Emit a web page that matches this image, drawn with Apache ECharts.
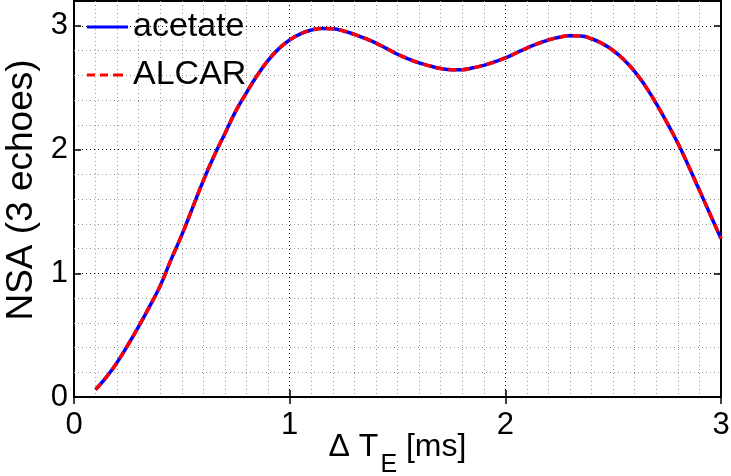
<!DOCTYPE html>
<html>
<head>
<meta charset="utf-8">
<script src="https://cdn.jsdelivr.net/npm/echarts@6/dist/echarts.min.js"></script>
<style>
  html, body { margin: 0; padding: 0; background: #fff; }
  #chart { width: 731px; height: 476px; }
</style>
</head>
<body>
<div id="chart"></div>
<script>
  // echo spacing [ms]
  let deltaTE = [0.10, 0.15, 0.20, 0.25, 0.30, 0.35, 0.40, 0.45, 0.50, 0.55,
    0.60, 0.65, 0.70, 0.75, 0.80, 0.85, 0.90, 0.95, 1.00, 1.05,
    1.10, 1.15, 1.20, 1.25, 1.30, 1.35, 1.40, 1.45, 1.50, 1.55,
    1.60, 1.65, 1.70, 1.75, 1.80, 1.85, 1.90, 1.95, 2.00, 2.05,
    2.10, 2.15, 2.20, 2.25, 2.30, 2.35, 2.40, 2.45, 2.50, 2.55,
    2.60, 2.65, 2.70, 2.75, 2.80, 2.85, 2.90, 2.95, 3.00]
  // NSA for 3 echoes
  let acetate = [0.06, 0.16, 0.28, 0.42, 0.57, 0.73, 0.90, 1.11, 1.31, 1.53,
    1.75, 1.95, 2.13, 2.31, 2.46, 2.60, 2.72, 2.815, 2.885, 2.935,
    2.965, 2.978, 2.975, 2.958, 2.93, 2.897, 2.86, 2.815, 2.77, 2.733,
    2.70, 2.675, 2.655, 2.645, 2.645, 2.66, 2.68, 2.708, 2.74, 2.78,
    2.82, 2.855, 2.885, 2.907, 2.92, 2.918, 2.895, 2.855, 2.80, 2.725,
    2.63, 2.51, 2.37, 2.215, 2.05, 1.865, 1.67, 1.475, 1.28]
  let alcar = [0.06, 0.16, 0.28, 0.42, 0.57, 0.73, 0.90, 1.11, 1.31, 1.53,
    1.75, 1.95, 2.13, 2.31, 2.46, 2.60, 2.72, 2.815, 2.885, 2.935,
    2.965, 2.978, 2.975, 2.958, 2.93, 2.897, 2.86, 2.815, 2.77, 2.733,
    2.70, 2.675, 2.655, 2.645, 2.645, 2.66, 2.68, 2.708, 2.74, 2.78,
    2.82, 2.855, 2.885, 2.907, 2.92, 2.918, 2.895, 2.855, 2.80, 2.725,
    2.63, 2.51, 2.37, 2.215, 2.05, 1.865, 1.67, 1.475, 1.28]
  let seriesNames = ['acetate', 'ALCAR']

  let font = "'Liberation Sans', Arial, sans-serif"
  let majorDots = {color: '#000', width: 1, type: [1, 3]}
  let minorDots = {color: ['transparent', '#999', '#999', '#999', '#999'], width: 1, type: [1, 3]}
  let tickStyle = {show: true, inside: true, length: 7, lineStyle: {color: '#000', width: 1.5}}

  function pairs (ys) {
    return deltaTE.map(function (x, i) {
      return [x, ys[i]]
    })
  }

  let chart = echarts.init(document.getElementById('chart'))
  let options = {
    animation: false,
    textStyle: {fontFamily: font},
    grid: {
      left: 74, right: 10, top: 1, bottom: 79,
      outerBoundsMode: 'none',
      show: true, borderColor: '#000', borderWidth: 2
    },
    legend: {
      orient: 'vertical',
      left: 82,
      top: 5,
      itemWidth: 41,
      itemHeight: 3.5,
      itemGap: 14,
      textStyle: {fontSize: 34, color: '#000', fontFamily: font},
      data: [
        {name: seriesNames[0], icon: 'path://M0,0H41V3H0Z'},
        {name: seriesNames[1], icon: 'path://M0,0H8V3H0Z M13,0H21V3H13Z M26,0H36V3H26Z M40.9,1.4H41V1.6H40.9Z'}
      ]
    },
    xAxis: [
      {
        type: 'value', position: 'bottom', min: 0, max: 3, interval: 1,
        name: '{a|Δ T}{sub|E}{a| [ms]}',
        nameLocation: 'middle',
        nameGap: 19,
        nameMoveOverlap: false,
        nameTextStyle: {
          rich: {
            a: {fontSize: 32, color: '#000', fontFamily: font},
            sub: {fontSize: 25, color: '#000', fontFamily: font, padding: [37, 0, 0, 2]}
          }
        },
        axisLine: {show: false},
        axisTick: tickStyle,
        axisLabel: {fontSize: 31, color: '#000', margin: 13, fontFamily: font},
        splitLine: {show: true, lineStyle: majorDots},
        minorTick: {show: false, splitNumber: 10},
        minorSplitLine: {show: true, lineStyle: {color: '#999', width: 1, type: [1, 3]}}
      },
      {
        type: 'value', position: 'top', min: 0, max: 3, interval: 1,
        axisLine: {show: false},
        axisTick: tickStyle,
        axisLabel: {show: false},
        splitLine: {show: false}
      }
    ],
    yAxis: [
      {
        type: 'value', position: 'left', min: 0, max: 3.2, interval: 0.2,
        axisLine: {show: false},
        axisTick: {show: false},
        axisLabel: {show: false},
        splitLine: {show: true, lineStyle: minorDots}
      },
      {
        type: 'value', position: 'left', min: 0, max: 3.2, interval: 1,
        name: 'NSA (3 echoes)',
        nameLocation: 'middle',
        nameGap: 30,
        nameTextStyle: {fontSize: 37, color: '#000', fontFamily: font, padding: [0, 0, 0, 18]},
        axisLine: {show: false},
        axisTick: tickStyle,
        axisLabel: {fontSize: 31, color: '#000', margin: 6, showMaxLabel: false, fontFamily: font},
        splitLine: {show: true, lineStyle: majorDots}
      },
      {
        type: 'value', position: 'right', min: 0, max: 3.2, interval: 1,
        axisLine: {show: false},
        axisTick: tickStyle,
        axisLabel: {show: false},
        splitLine: {show: false}
      }
    ],
    series: [
      {
        name: seriesNames[0],
        type: 'line',
        xAxisIndex: 0,
        yAxisIndex: 1,
        smooth: true,
        symbol: 'none',
        lineStyle: {color: '#0000ff', width: 3.5},
        itemStyle: {color: '#0000ff'},
        data: pairs(acetate)
      },
      {
        name: seriesNames[1],
        type: 'line',
        xAxisIndex: 0,
        yAxisIndex: 1,
        smooth: true,
        symbol: 'none',
        lineStyle: {color: '#ff0000', width: 3.5, type: [8, 5]},
        itemStyle: {color: '#ff0000'},
        data: pairs(alcar)
      }
    ]
  }
  chart.setOption(options)
</script>
</body>
</html>
